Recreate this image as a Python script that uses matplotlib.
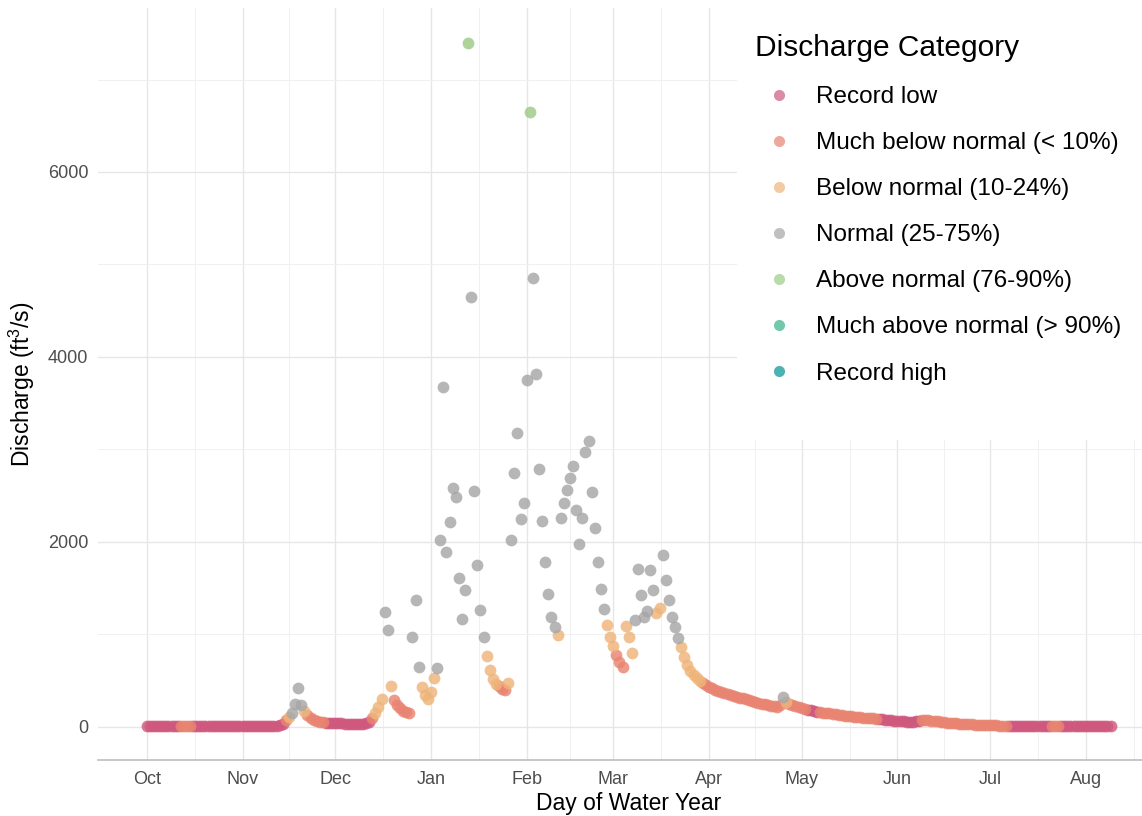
import numpy as np
import pandas as pd
import matplotlib
matplotlib.use("Agg")
import matplotlib.pyplot as plt
import matplotlib.dates as mdates
from matplotlib.lines import Line2D
from matplotlib.patches import Rectangle

plt.rcParams['font.family'] = ['Liberation Sans', 'DejaVu Sans']
plt.rcParams['mathtext.fontset'] = 'custom'
plt.rcParams['mathtext.rm'] = 'Liberation Sans'

# ---------------- data (daily discharge, water year starting Oct 1) ----------------
start_date = "2020-10-01"

discharge = [
    # Oct 1 - Nov 14
    12, 11, 11, 10, 10, 10, 11, 12, 11, 10, 10, 13, 14, 13, 12, 11, 10, 10, 10, 9,
    9, 9, 9, 10, 10, 9, 9, 9, 9, 9, 9, 9, 9, 9, 8, 8, 8, 9, 9, 9, 9, 10, 12, 18, 30,
    # Nov 15 - Nov 27
    75, 110, 150, 250, 420, 240, 170, 130, 100, 80, 65, 55, 50,
    # Nov 28 - Dec 12
    45, 42, 40, 40, 38, 38, 37, 36, 36, 36, 35, 35, 36, 40, 55,
    # Dec 13 - Dec 25
    100, 150, 215, 300, 1245, 1050, 440, 290, 240, 200, 175, 160, 150,
    # Dec 26 - Jan 3
    970, 1370, 650, 430, 350, 300, 380, 530, 640,
    # Jan 4 - Jan 26
    2020, 3676, 1890, 2220, 2580, 2490, 1610, 1170, 1480, 7400, 4650, 2550, 1750,
    1270, 970, 770, 620, 520, 470, 440, 410, 400, 480,
    # Jan 27 - Feb 11
    2020, 2750, 3180, 2250, 2420, 3750, 6650, 4850, 3816, 2790, 2230, 1785, 1440,
    1190, 1080, 990,
    # Feb 12 - Mar 7
    2260, 2420, 2560, 2690, 2820, 2350, 1980, 2260, 2975, 3090, 2540, 2150, 1785,
    1490, 1275, 1100, 975, 875, 780, 700, 650, 1090, 975, 800,
    # Mar 8 - Mar 29
    1160, 1710, 1430, 1190, 1250, 1700, 1480, 1230, 1290, 1860, 1590, 1370, 1190,
    1080, 960, 865, 760, 670, 610, 565, 530, 500,
    # Mar 30 - Apr 26
    475, 455, 435, 420, 405, 390, 378, 368, 358, 348, 338, 328, 318, 308, 298, 288,
    278, 268, 260, 252, 245, 238, 230, 222, 215, 240, 320, 270,
    # Apr 27 - Aug 9
    250, 238, 226, 214, 204, 195,
    187, 180, 173, 167,
    161, 156, 151, 146, 141, 136, 131, 127, 122, 118, 115, 112, 108, 105, 102, 99,
    96, 92, 88,
    85, 82, 79, 76, 73, 70, 67, 63, 60, 57, 55, 58, 62, 68,
    72, 75, 74, 70, 65, 60, 55, 50, 46, 43, 40, 38, 36, 34, 32, 30, 28, 26, 24, 22,
    20, 19, 18, 17, 16, 15, 14, 13,
    12, 12, 11, 11, 11, 10, 10, 10, 10, 9, 9, 9, 9, 9,
    9, 9, 8,
    8, 8, 8, 8, 8, 7, 7, 7, 7, 7, 7, 7, 6, 6, 6, 6, 6,
]

# category code per day (index into category_labels)
category_codes = (
    "00000000000" "1111" "000000000000000000000000000000"
    "1233332111111"
    "000000000000000"
    "1222332111111"
    "333222223"
    "333333333" "4" "33333" "2222" "111" "2"
    "333333" "4" "33333333" "2"
    "333333333333333" "222" "111" "222"
    "3333333" "22" "333333" "2222222"
    "1111111111111111111111111" "132"
    "111111" "0000" "1111111111111111111" "00000000000000"
    "1111111111111111111111111111" "00000000000000" "111" "00000000000000000"
)

category_labels = [
    "Record low",
    "Much below normal (< 10%)",
    "Below normal (10-24%)",
    "Normal (25-75%)",
    "Above normal (76-90%)",
    "Much above normal (> 90%)",
    "Record high",
]
category_colors = ["#cf597e", "#e88471", "#eeb479", "#a6a6a6",
                   "#9ccb86", "#39b185", "#009392"]

# ---------------- build frame ----------------
assert len(discharge) == len(category_codes)
df = pd.DataFrame({
    "date": pd.date_range(start_date, periods=len(discharge), freq="D"),
    "q": discharge,
    "cat": [int(c) for c in category_codes],
})

W, H = 1142, 816
fig = plt.figure(figsize=(W / 100, H / 100), dpi=100)
left_px, right_px, top_px, bottom_px = 98, 1160, 8, 760
ax = fig.add_axes([left_px / W, (H - bottom_px) / H,
                   (right_px - left_px) / W, (bottom_px - top_px) / H])

for code, (lab, col) in enumerate(zip(category_labels, category_colors)):
    sub = df[df["cat"] == code]
    if len(sub):
        ax.scatter(sub["date"], sub["q"], s=72, color=col, alpha=0.82,
                   linewidths=0, zorder=3)

# axes limits (ggplot-like expansion)
d0 = df["date"].iloc[0]
d1 = df["date"].iloc[-1]
span = (d1 - d0).days
ax.set_xlim(mdates.date2num(d0) - 0.05 * span - 0.2,
            mdates.date2num(d1) + 0.05 * span + 0.4)
ax.set_ylim(-357, 7773)

# ticks
ax.xaxis.set_major_locator(mdates.MonthLocator())
ax.xaxis.set_major_formatter(mdates.DateFormatter("%b"))
major_x = mdates.date2num(pd.date_range("2020-10-01", "2021-09-01", freq="MS"))
ax.set_xticks((major_x[:-1] + major_x[1:]) / 2, minor=True)
ax.set_yticks([0, 2000, 4000, 6000])
ax.set_yticks([1000, 3000, 5000, 7000], minor=True)

ax.grid(which="major", color="#e6e6e6", linewidth=1.0, zorder=0)
ax.grid(which="minor", color="#f0f0f0", linewidth=0.7, zorder=0)
ax.set_axisbelow(True)

ax.tick_params(axis="both", which="both", length=0, labelsize=13, labelcolor="#4d4d4d")
ax.tick_params(axis="x", pad=8)
ax.tick_params(axis="y", pad=7)

for sp in ["top", "right", "left"]:
    ax.spines[sp].set_visible(False)
ax.spines["bottom"].set_color("#bdbdbd")
ax.spines["bottom"].set_linewidth(1.2)

ax.set_xlabel("Day of Water Year", fontsize=16.5, labelpad=3)
ax.set_ylabel("Discharge (ft$^3$/s)", fontsize=16.5, labelpad=8)

# legend background (legend sits over the panel)
ax.add_patch(Rectangle((737 / W, (H - 440) / H), (W - 737) / W + 0.05, 440 / H + 0.05,
                       transform=fig.transFigure, facecolor="white", edgecolor="none",
                       clip_on=False, zorder=1))

handles = [Line2D([], [], marker="o", ls="", color=c, alpha=0.7, markersize=8,
                  markeredgewidth=0) for c in category_colors]
leg = fig.legend(handles, category_labels, loc="upper left",
                 bbox_to_anchor=(755 / W, 1 - 34 / H), frameon=False,
                 title="Discharge Category", title_fontsize=21.5, fontsize=17.5,
                 alignment="left", handlelength=2.0, handletextpad=0.51,
                 labelspacing=0.99, borderpad=0, borderaxespad=0)
leg.set_zorder(5)

fig.savefig("out.png", dpi=100)
